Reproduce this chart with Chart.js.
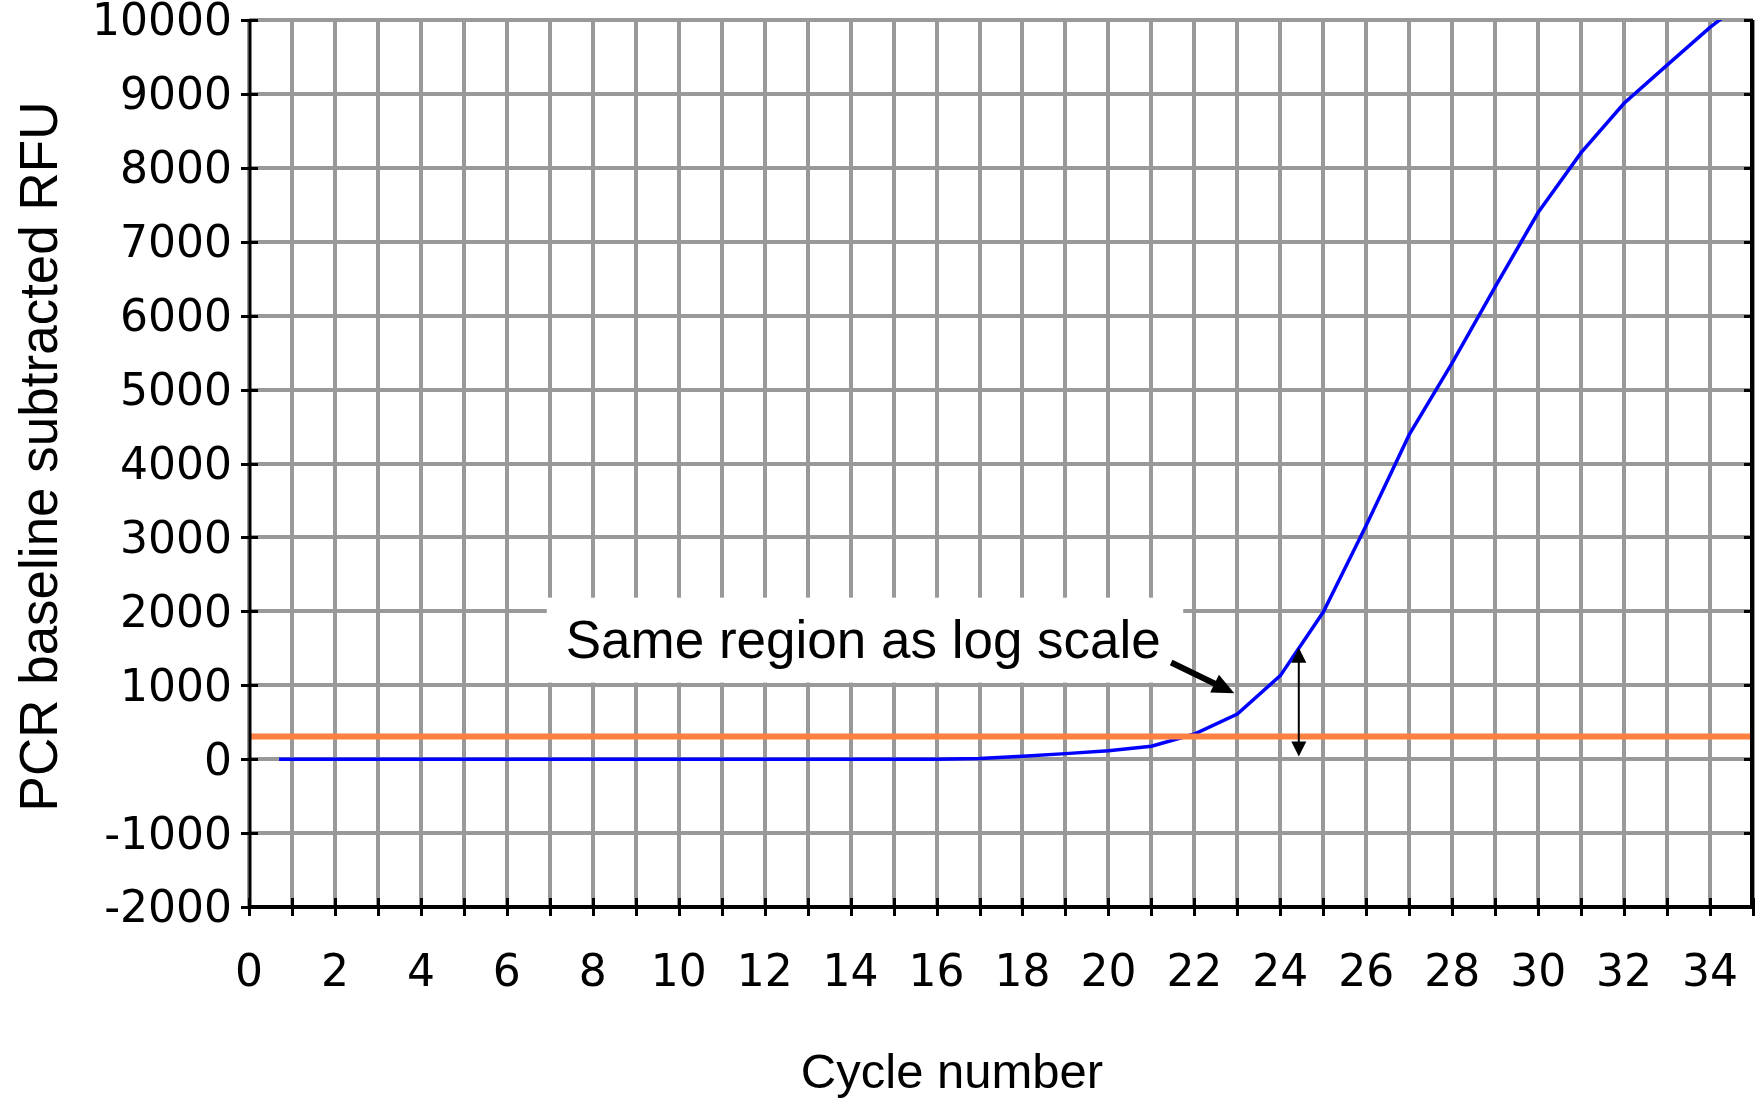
<!DOCTYPE html>
<html>
<head>
<meta charset="utf-8">
<title>PCR baseline subtracted RFU</title>
<script src="https://cdn.jsdelivr.net/npm/chart.js@4.4.1/dist/chart.umd.min.js"></script>
<style>
html,body{margin:0;padding:0;background:#fff;}
#canvas{display:block;}
</style>
</head>
<body>
<canvas id="canvas" width="1759" height="1098"></canvas>
<script>
// amplification curve
var CYCLES = [0.7, 1, 2, 3, 4, 5, 6, 7, 8, 9, 10, 11, 12, 13, 14, 15, 16, 17, 18, 19, 20, 21, 22, 23, 24, 25, 26, 27, 28, 29, 30, 31, 32, 33, 34, 35];
var RFU = [0, 0, 0, 0, 0, 0, 0, 0, 0, 0, 0, 0, 0, 0, 0, 0, 0, 10, 40, 75, 115, 175, 340, 610, 1130, 1990, 3165, 4390, 5360, 6390, 7395, 8205, 8874, 9390, 9900, 10350];

// threshold line
var THRESHOLD_CYCLES = [0, 35];
var THRESHOLD_RFU = [305, 305];

// axes
var X_LABELS = [0, 2, 4, 6, 8, 10, 12, 14, 16, 18, 20, 22, 24, 26, 28, 30, 32, 34];
var Y_TICKS = [-2000, -1000, 0, 1000, 2000, 3000, 4000, 5000, 6000, 7000, 8000, 9000, 10000];
var X_MIN = 0, X_MAX = 35;
var X_TITLE = 'Cycle number';
var Y_TITLE = 'PCR baseline subtracted RFU';

// annotation, in data units (cycle, RFU)
var NOTE_TEXT = 'Same region as log scale';
var NOTE_BOX = [6.93, 2185, 21.74, 1036];
var NOTE_TEXT_AT = [7.37, 1365];
var NOTE_ARROW = [21.46, 1307, 22.93, 892];
var SPAN_ARROW = [24.43, 1509, 24.43, 36];

var TITLE_FONT = '"Liberation Sans", Arial, sans-serif';

var arrowHead = function(ctx, x0, y0, x1, y1, len, wid) {
	var a = Math.atan2(y1 - y0, x1 - x0);
	ctx.beginPath();
	ctx.moveTo(x1, y1);
	ctx.lineTo(x1 - len * Math.cos(a) + wid / 2 * Math.sin(a), y1 - len * Math.sin(a) - wid / 2 * Math.cos(a));
	ctx.lineTo(x1 - len * Math.cos(a) - wid / 2 * Math.sin(a), y1 - len * Math.sin(a) + wid / 2 * Math.cos(a));
	ctx.closePath();
	ctx.fill();
};

var notesPlugin = {
	id: 'notes',
	beforeDatasetsDraw: function(chart) {
		var ctx = chart.ctx, _x = chart.scales.x, _y = chart.scales.y;
		// white box behind the note, hides the grid
		var bx0 = _x.getPixelForValue(NOTE_BOX[0]), by0 = _y.getPixelForValue(NOTE_BOX[1]);
		var bx1 = _x.getPixelForValue(NOTE_BOX[2]), by1 = _y.getPixelForValue(NOTE_BOX[3]);
		ctx.save();
		ctx.fillStyle = '#ffffff';
		ctx.fillRect(bx0, by0, bx1 - bx0, by1 - by0);
		ctx.restore();
	},
	afterDatasetsDraw: function(chart) {
		var ctx = chart.ctx, _x = chart.scales.x, _y = chart.scales.y, _a = chart.chartArea;
		ctx.save();
		ctx.strokeStyle = '#000';
		ctx.fillStyle = '#000';
		ctx.lineCap = 'butt';

		// axis lines
		ctx.lineWidth = 3;
		ctx.beginPath();
		ctx.moveTo(_a.left + 1, _a.top);
		ctx.lineTo(_a.left + 1, _a.bottom);
		ctx.stroke();
		ctx.lineWidth = 4;
		ctx.beginPath();
		ctx.moveTo(_a.left, _a.bottom);
		ctx.lineTo(_a.right, _a.bottom);
		ctx.moveTo(_a.right - 1, _a.top);
		ctx.lineTo(_a.right - 1, _a.bottom + 2);
		ctx.stroke();

		// tick marks
		ctx.lineWidth = 3;
		ctx.beginPath();
		Y_TICKS.forEach(function(v) {
			var py = Math.round(_y.getPixelForValue(v)) + 0.5;
			ctx.moveTo(_a.left - 8, py);
			ctx.lineTo(_a.left + 9, py);
			ctx.moveTo(_a.right - 9, py);
			ctx.lineTo(_a.right, py);
		});
		for (var c = X_MIN; c <= X_MAX; c++) {
			var px = Math.round(_x.getPixelForValue(c)) + 0.5;
			ctx.moveTo(px, _a.bottom - 9);
			ctx.lineTo(px, _a.bottom + 9);
		}
		ctx.stroke();

		// axis titles
		ctx.textBaseline = 'alphabetic';
		ctx.textAlign = 'center';
		ctx.font = '49px ' + TITLE_FONT;
		ctx.fillText(X_TITLE, _a.left + 703, _a.bottom + 181);
		ctx.save();
		ctx.translate(_a.left - 192, (_a.top + _a.bottom) / 2 - 7);
		ctx.rotate(-Math.PI / 2);
		ctx.font = '53px ' + TITLE_FONT;
		ctx.fillText(Y_TITLE, 0, 0);
		ctx.restore();

		// note text
		ctx.font = '53px ' + TITLE_FONT;
		ctx.textAlign = 'left';
		ctx.fillText(NOTE_TEXT, _x.getPixelForValue(NOTE_TEXT_AT[0]), _y.getPixelForValue(NOTE_TEXT_AT[1]));

		// arrow from note to curve
		var ax0 = _x.getPixelForValue(NOTE_ARROW[0]), ay0 = _y.getPixelForValue(NOTE_ARROW[1]);
		var ax1 = _x.getPixelForValue(NOTE_ARROW[2]), ay1 = _y.getPixelForValue(NOTE_ARROW[3]);
		ctx.lineWidth = 6;
		ctx.beginPath();
		ctx.moveTo(ax0, ay0);
		ctx.lineTo(ax0 + (ax1 - ax0) * 0.75, ay0 + (ay1 - ay0) * 0.75);
		ctx.stroke();
		arrowHead(ctx, ax0, ay0, ax1, ay1, 22, 20);

		// double arrow, threshold to curve
		var sx0 = _x.getPixelForValue(SPAN_ARROW[0]), sy0 = _y.getPixelForValue(SPAN_ARROW[1]);
		var sx1 = _x.getPixelForValue(SPAN_ARROW[2]), sy1 = _y.getPixelForValue(SPAN_ARROW[3]);
		ctx.lineWidth = 2;
		ctx.beginPath();
		ctx.moveTo(sx0, sy0 + 10);
		ctx.lineTo(sx1, sy1 - 10);
		ctx.stroke();
		arrowHead(ctx, sx1, sy1, sx0, sy0, 15, 15);
		arrowHead(ctx, sx0, sy0, sx1, sy1, 15, 15);
		ctx.restore();
	}
};

var curvePoints = CYCLES.map(function(c, i) { return {x: c, y: RFU[i]}; });
var thresholdPoints = THRESHOLD_CYCLES.map(function(c, i) { return {x: c, y: THRESHOLD_RFU[i]}; });

var tickFont = {family: '"DejaVu Sans", Verdana, sans-serif', size: 44, lineHeight: 1};

var ctx = document.getElementById('canvas').getContext('2d');
window.pcrChart = new Chart(ctx, {
	type: 'line',
	data: {
		datasets: [{
			label: 'threshold',
			data: thresholdPoints,
			borderColor: '#ff8040',
			borderWidth: 6,
			pointRadius: 0,
			fill: false
		}, {
			label: 'RFU',
			data: curvePoints,
			borderColor: '#0000ff',
			borderWidth: 3.5,
			pointRadius: 0,
			tension: 0,
			fill: false
		}]
	},
	options: {
		responsive: false,
		animation: false,
		devicePixelRatio: 1,
		layout: {padding: {top: 20, right: 6, left: 0, bottom: 0}},
		plugins: {
			legend: {display: false},
			tooltip: {enabled: false}
		},
		scales: {
			x: {
				type: 'linear',
				min: X_MIN,
				max: X_MAX,
				afterBuildTicks: function(scale) {
					var _t = [];
					for (var c = X_MIN; c <= X_MAX; c++) _t.push({value: c});
					scale.ticks = _t;
				},
				afterFit: function(scale) {
					scale.height = 191;
					scale.paddingLeft = 0;
					scale.paddingRight = 0;
				},
				ticks: {
					autoSkip: false,
					maxRotation: 0,
					padding: 46,
					color: '#000',
					font: tickFont,
					callback: function(v) { return X_LABELS.indexOf(v) >= 0 ? String(v) : ''; }
				},
				grid: {color: '#999999', lineWidth: 4, drawTicks: false},
				border: {display: false},
				title: {display: false}
			},
			y: {
				type: 'linear',
				min: Y_TICKS[0],
				max: Y_TICKS[Y_TICKS.length - 1],
				afterBuildTicks: function(scale) {
					scale.ticks = Y_TICKS.map(function(v) { return {value: v}; });
				},
				afterFit: function(scale) {
					scale.width = 249;
					scale.paddingTop = 0;
					scale.paddingBottom = 0;
				},
				ticks: {
					padding: 17,
					labelOffset: 4,
					color: '#000',
					font: tickFont,
					callback: function(v) { return String(v); }
				},
				grid: {color: '#999999', lineWidth: 4, drawTicks: false},
				border: {display: false},
				title: {display: false}
			}
		}
	},
	plugins: [notesPlugin]
});
</script>
</body>
</html>
